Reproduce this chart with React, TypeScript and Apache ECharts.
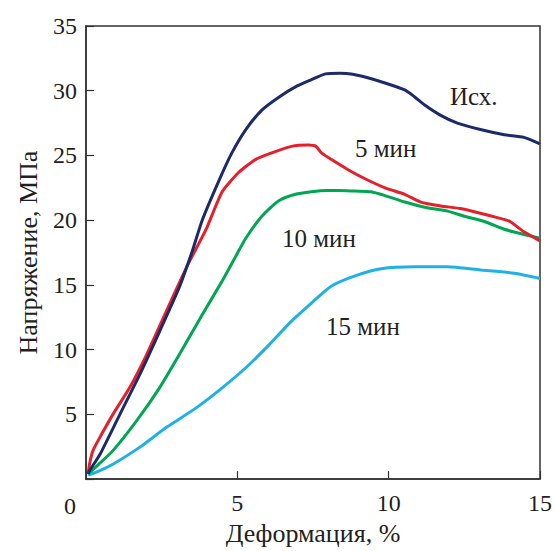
import React, { useEffect, useRef } from "react";
import * as echarts from "echarts";

// Деформация, % (x) and Напряжение, МПа (y)
const initialCurve: [number, number][] = [
  [0.07, 0.4], [0.13, 0.7], [0.46, 1.9], [1.12, 5.0], [1.77, 8.05], [2.43, 11.4],
  [3.08, 14.8], [3.51, 17.6], [3.84, 20.0], [4.4, 23.1], [4.82, 25.2], [5.28, 27.0],
  [5.81, 28.5], [6.37, 29.5], [6.92, 30.3], [7.45, 30.85], [7.91, 31.3], [8.4, 31.35],
  [8.76, 31.3], [9.22, 31.06], [9.88, 30.6], [10.53, 30.06], [10.86, 29.52],
  [11.19, 28.9], [11.72, 28.1], [12.27, 27.5], [13.03, 27.0], [13.82, 26.6],
  [14.47, 26.4], [15.0, 25.9],
];
const min5Curve: [number, number][] = [
  [0.07, 0.4], [0.12, 1.2], [0.23, 2.2], [0.5, 3.4], [0.89, 5.0], [1.44, 7.05],
  [2.0, 9.6], [2.66, 13.0], [3.31, 16.3], [3.64, 17.8], [3.97, 19.3], [4.5, 22.2],
  [5.05, 23.7], [5.61, 24.7], [6.14, 25.2], [6.79, 25.7], [7.35, 25.8], [7.6, 25.7],
  [7.78, 25.2], [8.1, 24.7], [8.66, 23.9], [9.22, 23.2], [9.88, 22.5], [10.53, 22.0],
  [11.06, 21.4], [11.72, 21.1], [12.37, 20.9], [12.93, 20.6], [13.59, 20.2],
  [14.01, 19.9], [14.47, 19.1], [15.0, 18.4],
];
const min10Curve: [number, number][] = [
  [0.07, 0.4], [0.4, 1.1], [0.89, 2.2], [1.67, 4.5], [2.43, 7.05], [3.08, 9.6],
  [3.84, 12.7], [4.5, 15.3], [4.9, 17.0], [5.28, 18.6], [5.81, 20.3], [6.37, 21.5],
  [6.92, 22.0], [7.45, 22.2], [7.94, 22.3], [8.34, 22.3], [8.9, 22.25], [9.42, 22.2],
  [9.88, 21.9], [10.53, 21.4], [11.19, 21.0], [11.95, 20.7], [12.5, 20.3],
  [13.16, 19.9], [13.82, 19.3], [14.47, 18.9], [15.0, 18.6],
];
const min15Curve: [number, number][] = [
  [0.07, 0.3], [0.4, 0.6], [0.89, 1.15], [1.77, 2.45], [2.66, 4.0], [3.64, 5.5],
  [4.5, 7.05], [5.28, 8.6], [6.04, 10.35], [6.79, 12.2], [7.45, 13.6], [8.1, 14.9],
  [8.89, 15.7], [9.75, 16.25], [10.86, 16.4], [11.95, 16.4], [13.03, 16.15],
  [14.15, 15.9], [15.0, 15.5],
];

const seriesNames = ["Исх.", "5 мин", "10 мин", "15 мин"];
const seriesColors = ["#1c2a6b", "#e5202b", "#00a651", "#1fb1e6"];
const xTicks = { min: 0, max: 15, interval: 5 };
const yTicks = { min: 0, max: 35, interval: 5 };
const xTitle = "Деформация, %";
const yTitle = "Напряжение, МПа";

const FONT = "'Liberation Serif', 'DejaVu Serif', serif";
const TXT = "#231f20";

export default function App() {
  const ref = useRef<HTMLDivElement>(null);
  useEffect(() => {
    if (!ref.current) return;
    const chart = echarts.init(ref.current, undefined, { renderer: "svg" });
    const curves = [initialCurve, min5Curve, min10Curve, min15Curve];
    const labelPos = [
      { left: 450, top: 84 },
      { left: 355, top: 136 },
      { left: 282, top: 226 },
      { left: 326, top: 314 },
    ];
    chart.setOption({
      animation: false,
      backgroundColor: "#ffffff",
      grid: {
        left: 86, top: 26, right: 12, bottom: 69,
        show: true, borderColor: "#333", borderWidth: 1.5,
      },
      xAxis: {
        type: "value",
        min: xTicks.min, max: xTicks.max, interval: xTicks.interval,
        name: xTitle, nameLocation: "middle", nameGap: 40,
        nameTextStyle: { fontFamily: FONT, fontSize: 26, color: TXT },
        axisLine: { show: true, lineStyle: { color: "#333", width: 1.5 } },
        axisTick: { show: true, inside: true, length: 8, lineStyle: { color: "#333", width: 1.2 } },
        axisLabel: {
          fontFamily: FONT, fontSize: 24, color: TXT, margin: 12,
          formatter: (v: number) => (v === 0 ? "" : String(v)),
        },
        splitLine: { show: false },
      },
      yAxis: {
        type: "value",
        min: yTicks.min, max: yTicks.max, interval: yTicks.interval,
        name: yTitle, nameLocation: "middle", nameGap: 45, nameRotate: 90,
        nameTextStyle: { fontFamily: FONT, fontSize: 26, color: TXT },
        axisLine: { show: true, lineStyle: { color: "#333", width: 1.5 } },
        axisTick: { show: true, inside: true, length: 8, lineStyle: { color: "#333", width: 1.2 } },
        axisLabel: {
          fontFamily: FONT, fontSize: 24, color: TXT, margin: 9,
          formatter: (v: number) => (v === 0 ? "" : String(v)),
        },
        splitLine: { show: false },
      },
      graphic: [
        {
          type: "text", left: 64, top: 494,
          style: { text: "0", font: `24px ${FONT}`, fill: TXT },
        },
        ...seriesNames.map((n, i) => ({
          type: "text", left: labelPos[i].left, top: labelPos[i].top,
          style: { text: n, font: `25px ${FONT}`, fill: TXT },
        })),
      ],
      series: curves.map((d, i) => ({
        name: seriesNames[i],
        type: "line",
        data: d,
        smooth: 0.2,
        symbol: "none",
        lineStyle: { color: seriesColors[i], width: 3 },
        z: 10 - i,
      })),
    });
    return () => chart.dispose();
  }, []);
  return (
    <div
      ref={ref}
      style={{ position: "absolute", left: 0, top: 0, width: 555, height: 551 }}
    />
  );
}
